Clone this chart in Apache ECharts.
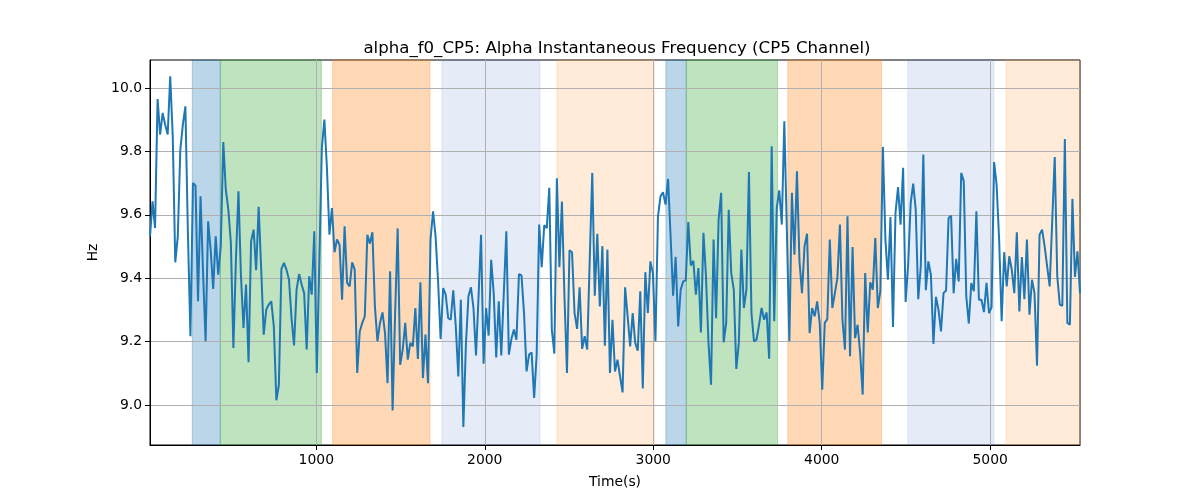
<!DOCTYPE html>
<html>
<head>
<meta charset="utf-8">
<script src="https://cdn.jsdelivr.net/npm/echarts@6/dist/echarts.min.js"></script>
<style>html,body{margin:0;padding:0;background:#fff}#c{width:1200px;height:500px}</style>
</head>
<body>
<div id="c"></div>
<script>
// Sampling grid of the signal (seconds)
const timeStart = 13;
const timeStep = 15;
// Alpha instantaneous frequency (Hz)
const values = [
9.532,9.642,9.558,9.965,9.853,9.921,9.884,9.853,10.037,9.848,
9.450,9.532,9.805,9.884,9.942,9.543,9.217,9.700,9.692,9.327,
9.658,9.416,9.201,9.579,9.490,9.366,9.532,9.411,9.500,9.829,
9.679,9.616,9.511,9.180,9.458,9.674,9.406,9.243,9.380,9.135,
9.516,9.553,9.425,9.625,9.427,9.222,9.301,9.317,9.327,9.248,
9.015,9.064,9.429,9.448,9.427,9.395,9.274,9.188,9.364,9.413,
9.380,9.353,9.175,9.406,9.348,9.548,9.101,9.450,9.811,9.900,
9.750,9.537,9.621,9.482,9.522,9.506,9.332,9.564,9.385,9.374,
9.450,9.427,9.101,9.232,9.259,9.280,9.537,9.509,9.545,9.311,
9.201,9.259,9.292,9.227,9.069,9.422,8.983,9.290,9.557,9.127,
9.175,9.259,9.143,9.196,9.185,9.306,9.145,9.387,9.085,9.222,
9.069,9.522,9.611,9.532,9.390,9.208,9.369,9.348,9.274,9.269,
9.362,9.248,9.090,9.332,8.931,9.190,9.343,9.371,9.306,9.156,
9.341,9.537,9.130,9.306,9.219,9.458,9.353,9.150,9.327,9.156,
9.353,9.548,9.159,9.208,9.238,9.206,9.413,9.409,9.290,9.106,
9.159,9.166,9.022,9.159,9.569,9.435,9.567,9.558,9.685,9.238,
9.162,9.715,9.435,9.642,9.343,9.101,9.488,9.482,9.290,9.240,
9.371,9.177,9.217,9.175,9.458,9.732,9.345,9.540,9.311,9.501,
9.187,9.490,9.101,9.269,9.106,9.143,9.090,9.040,9.371,9.280,
9.185,9.290,9.196,9.171,9.359,9.052,9.419,9.290,9.453,9.416,
9.201,9.595,9.658,9.671,9.632,9.713,9.532,9.345,9.467,9.248,
9.364,9.390,9.393,9.577,9.440,9.455,9.348,9.432,9.229,9.543,
9.406,9.196,9.064,9.522,9.274,9.585,9.669,9.198,9.259,9.616,
9.416,9.364,9.114,9.196,9.490,9.306,9.364,9.735,9.290,9.201,
9.206,9.253,9.306,9.269,9.292,9.146,9.816,9.264,9.621,9.677,
9.569,9.895,9.553,9.201,9.669,9.474,9.737,9.453,9.353,9.501,
9.540,9.227,9.306,9.280,9.327,9.259,9.048,9.259,9.271,9.522,
9.306,9.353,9.401,9.569,9.269,9.175,9.595,9.154,9.498,9.211,
9.253,9.164,9.033,9.416,9.229,9.387,9.364,9.527,9.306,9.359,
9.814,9.522,9.395,9.593,9.246,9.606,9.687,9.569,9.748,9.325,
9.443,9.637,9.698,9.616,9.334,9.437,9.790,9.362,9.453,9.411,
9.193,9.341,9.301,9.232,9.353,9.361,9.590,9.597,9.353,9.461,
9.390,9.732,9.706,9.343,9.257,9.385,9.359,9.611,9.332,9.332,
9.293,9.385,9.290,9.309,9.766,9.695,9.522,9.264,9.482,9.374,
9.469,9.427,9.353,9.545,9.295,9.467,9.334,9.522,9.285,9.395,
9.353,9.124,9.537,9.553,9.501,9.437,9.374,9.580,9.782,9.406,
9.317,9.313,9.839,9.259,9.253,9.650,9.404,9.485,9.353
];
// Shaded intervals (seconds) and their kind
const spanStart = [264, 430, 1097, 1746, 2428, 3075, 3196, 3799, 4511, 5093];
const spanEnd   = [430, 1030, 1675, 2328, 3006, 3196, 3738, 4355, 5022, 5533];
const spanKind  = ['blue','green','orange','lightblue','lightorange','blue','green','orange','lightblue','lightorange'];
// Tick labels
const xTicks = [1000, 2000, 3000, 4000, 5000];
const yTicks = [9.0, 9.2, 9.4, 9.6, 9.8, 10.0];

const spanStyle = {
  blue:        {color: '#1f77b4', opacity: 0.3},
  green:       {color: '#2ca02c', opacity: 0.3},
  orange:      {color: '#ff7f0e', opacity: 0.3},
  lightblue:   {color: '#4f7fcf', opacity: 0.15},
  lightorange: {color: '#ff9a3c', opacity: 0.2}
};

const lineData = values.map((v, i) => [timeStart + i * timeStep, v]);
const xMin = timeStart, xMax = timeStart + (values.length - 1) * timeStep;

const font = 'DejaVu Sans';
const chart = echarts.init(document.getElementById('c'), null, {renderer: 'canvas'});
chart.setOption({
  animation: false,
  backgroundColor: '#fff',
  title: {
    text: 'alpha_f0_CP5: Alpha Instantaneous Frequency (CP5 Channel)',
    left: 612, top: 35, textAlign: 'center',
    textStyle: {fontFamily: font, fontSize: 16.6, fontWeight: 'normal', color: '#000'}
  },
  grid: {left: 150, right: 120, top: 60, bottom: 55, show: true, borderColor: '#000', borderWidth: 1, backgroundColor: 'transparent'},
  xAxis: {
    type: 'value', min: xMin, max: xMax, z: 1.5,
    name: 'Time(s)', nameLocation: 'middle', nameGap: 30,
    nameTextStyle: {fontFamily: font, fontSize: 13.9, color: '#000'},
    axisLine: {show: true, lineStyle: {color: '#000', width: 1}},
    axisTick: {show: true, length: 5, customValues: xTicks, lineStyle: {color: '#000'}},
    axisLabel: {customValues: xTicks, fontFamily: font, fontSize: 13.9, color: '#000', margin: 8,
      formatter: v => String(Math.round(v))},
    splitLine: {show: true, lineStyle: {color: '#b0b0b0', width: 1}}
  },
  yAxis: {
    type: 'value', min: 8.874, max: 10.088, z: 1.5,
    name: 'Hz', nameLocation: 'middle', nameGap: 47, nameRotate: 90,
    nameTextStyle: {fontFamily: font, fontSize: 13.9, color: '#000'},
    axisLine: {show: true, lineStyle: {color: '#000', width: 1}},
    axisTick: {show: true, length: 5, customValues: yTicks, lineStyle: {color: '#000'}},
    axisLabel: {customValues: yTicks, fontFamily: font, fontSize: 13.9, color: '#000', margin: 8,
      formatter: v => v.toFixed(1)},
    splitLine: {show: true, lineStyle: {color: '#b0b0b0', width: 1}}
  },
  series: [
    {
      type: 'line', data: [], z: 1, silent: true,
      markArea: {
        silent: true,
        data: spanStart.map((s, i) => [
          {xAxis: s, itemStyle: {color: spanStyle[spanKind[i]].color, opacity: spanStyle[spanKind[i]].opacity,
            borderColor: spanStyle[spanKind[i]].color, borderWidth: 1}},
          {xAxis: spanEnd[i]}
        ])
      }
    },
    {
      type: 'line', data: lineData, z: 3, symbol: 'none', silent: true,
      lineStyle: {color: '#1f77b4', width: 2}
    }
  ]
});
</script>
</body>
</html>
